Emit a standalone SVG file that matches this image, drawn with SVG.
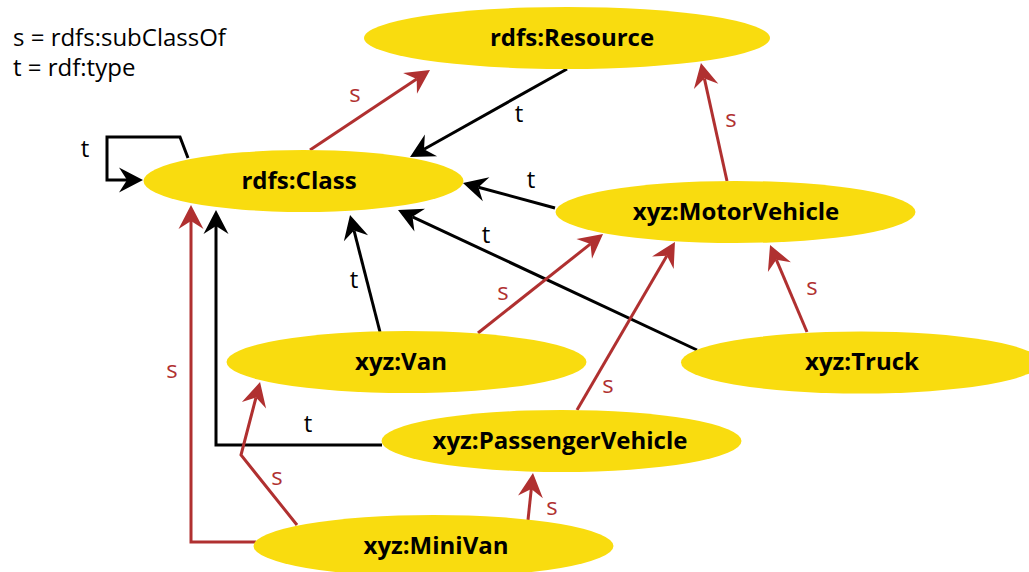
<svg xmlns="http://www.w3.org/2000/svg" width="1029" height="572" viewBox="0 0 1029 572">
  <style>
    .node ellipse { fill: #f9dc0f; }
    .node text { font-family: "Open Sans", "DejaVu Sans", sans-serif; font-weight: bold; font-size: 24px; fill: #000; text-anchor: middle; }
    .legend { font-family: "Open Sans", "DejaVu Sans", sans-serif; font-size: 24px; fill: #000; }
    .edge { fill: none; stroke-width: 3; stroke-linejoin: miter; }
    .edge.t { stroke: #000; marker-end: url(#arrow-t); }
    .edge.s { stroke: #b03030; marker-end: url(#arrow-s); }
    .lbl { font-family: "Open Sans", "DejaVu Sans", sans-serif; font-size: 24px; text-anchor: middle; }
    .lbl.t { fill: #000; }
    .lbl.s { fill: #b03030; }
  </style>
  <defs>
    <marker id="arrow-t" markerUnits="userSpaceOnUse" orient="auto" refX="0" refY="0" markerWidth="40" markerHeight="40" viewBox="-10 -20 40 40" overflow="visible">
      <path d="M16,0 L-8,-12.5 L0,0 L-8,12.5 Z" fill="#000"/>
    </marker>
    <marker id="arrow-s" markerUnits="userSpaceOnUse" orient="auto" refX="0" refY="0" markerWidth="40" markerHeight="40" viewBox="-10 -20 40 40" overflow="visible">
      <path d="M16,0 L-8,-12.5 L0,0 L-8,12.5 Z" fill="#b03030"/>
    </marker>
  </defs>

  <rect width="1029" height="572" fill="#fff"/>

  <!-- legend -->
  <text class="legend" x="13" y="46">s = rdfs:subClassOf</text>
  <text class="legend" x="13" y="76">t = rdf:type</text>

  <!-- connectors: s = subClassOf (red), t = type (black) -->
  <g id="connectors">
    <path class="edge s" d="M310,150 L416.7,78.9"/>
    <path class="edge t" d="M567,69 L424,149.2"/>
    <path class="edge t" d="M188,158 L180,137 L107,137 L107,180 L127,180"/>
    <path class="edge t" d="M555,208 L478.4,187.2"/>
    <path class="edge s" d="M727,181 L704.4,78.6"/>
    <path class="edge t" d="M697,350 L412.5,216.8"/>
    <path class="edge t" d="M380,332 L354,230.5"/>
    <path class="edge s" d="M478,333 L590.5,243.9"/>
    <path class="edge s" d="M577,410 L666.9,255.8"/>
    <path class="edge s" d="M807,332 L776.3,259.7"/>
    <path class="edge t" d="M382,445 L216,445 L216,226"/>
    <path class="edge s" d="M256,542 L191,542 L191,221"/>
    <path class="edge s" d="M297,525 L241,455 L256,397.5"/>
    <path class="edge s" d="M528,520 L531.3,488.9"/>

    <text class="lbl s" x="355" y="102">s</text>
    <text class="lbl t" x="519" y="122">t</text>
    <text class="lbl t" x="85" y="157">t</text>
    <text class="lbl t" x="531" y="188">t</text>
    <text class="lbl s" x="731" y="127">s</text>
    <text class="lbl t" x="486" y="243">t</text>
    <text class="lbl t" x="354" y="288">t</text>
    <text class="lbl s" x="503" y="300">s</text>
    <text class="lbl s" x="608" y="393">s</text>
    <text class="lbl s" x="812" y="295">s</text>
    <text class="lbl t" x="308" y="432">t</text>
    <text class="lbl s" x="172" y="378">s</text>
    <text class="lbl s" x="277" y="485">s</text>
    <text class="lbl s" x="552" y="515">s</text>
  </g>

  <!-- nodes -->
  <g id="node-resource" class="node">
    <ellipse cx="567" cy="38" rx="203" ry="31"/>
    <text x="572" y="46">rdfs:Resource</text>
  </g>
  <g id="node-class" class="node">
    <ellipse cx="303.5" cy="181" rx="160" ry="31"/>
    <text x="299" y="189">rdfs:Class</text>
  </g>
  <g id="node-motorvehicle" class="node">
    <ellipse cx="735.5" cy="212" rx="180" ry="31"/>
    <text x="736" y="220">xyz:MotorVehicle</text>
  </g>
  <g id="node-van" class="node">
    <ellipse cx="406.5" cy="362" rx="180" ry="31"/>
    <text x="401" y="370">xyz:Van</text>
  </g>
  <g id="node-truck" class="node">
    <ellipse cx="861" cy="362.5" rx="180" ry="31"/>
    <text x="862" y="370">xyz:Truck</text>
  </g>
  <g id="node-passengervehicle" class="node">
    <ellipse cx="561.5" cy="441" rx="180" ry="31"/>
    <text x="560" y="449">xyz:PassengerVehicle</text>
  </g>
  <g id="node-minivan" class="node">
    <ellipse cx="433.5" cy="546" rx="180" ry="31"/>
    <text x="436" y="554">xyz:MiniVan</text>
  </g>
</svg>
